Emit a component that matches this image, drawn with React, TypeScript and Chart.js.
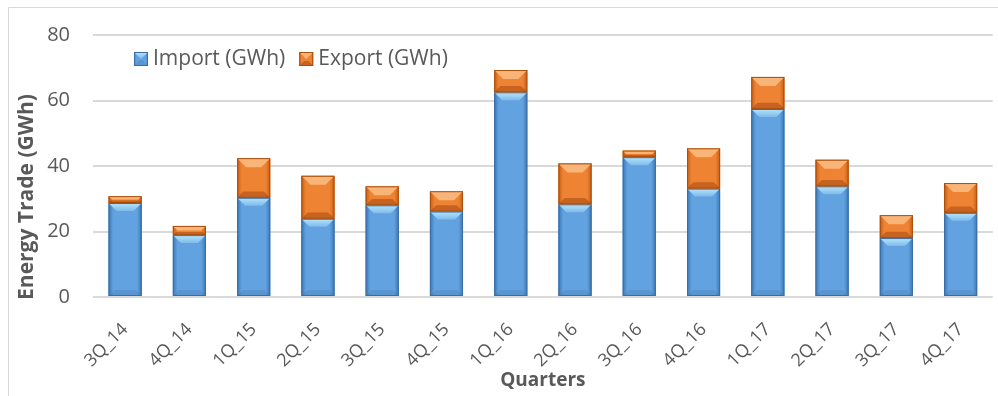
import React, { useEffect, useRef } from 'react';
import { Chart, registerables } from 'chart.js';

Chart.register(...registerables);

const categories = ['3Q_14', '4Q_14', '1Q_15', '2Q_15', '3Q_15', '4Q_15', '1Q_16', '2Q_16', '3Q_16', '4Q_16', '1Q_17', '2Q_17', '3Q_17', '4Q_17'];
const importValues = [28.7, 18.9, 30.3, 23.9, 28.0, 26.1, 62.5, 28.3, 42.7, 33.1, 57.4, 33.8, 18.0, 25.7];
const exportValues = [2.1, 2.8, 12.1, 13.1, 5.8, 6.2, 6.8, 12.5, 2.0, 12.3, 9.8, 8.1, 7.0, 9.1];
const seriesNames = ['Import (GWh)', 'Export (GWh)'];
const yTickValues = [0, 20, 40, 60, 80];
const xTitle = 'Quarters';
const yTitle = 'Energy Trade (GWh)';

const FONT = '"Open Sans", sans-serif';
const TEXT = '#595959';
const GRID = '#D9D9D9';

const palettes = [
  { edge: '#3B77B4', mid: '#62A2E0', light: '#B4E6FC', dark: 'rgba(40,80,130,0.15)', border: '#3A6EA3' },
  { edge: '#C85C14', mid: '#EE8433', light: '#F8B577', dark: 'rgba(150,60,10,0.45)', border: '#A9500F' },
];

function drawBevelBar(ctx: CanvasRenderingContext2D, left: number, top: number, w: number, h: number, p: any, kind: number) {
  if (h <= 0.5) return;
  ctx.save();
  const g = ctx.createLinearGradient(left, 0, left + w, 0);
  g.addColorStop(0, p.edge);
  g.addColorStop(0.14, p.mid);
  g.addColorStop(0.5, p.mid);
  g.addColorStop(0.86, p.mid);
  g.addColorStop(1, p.edge);
  ctx.fillStyle = g;
  ctx.fillRect(left, top, w, h);
  const b = Math.min(kind === 0 ? 8 : 9, h / 2, w / 2);
  if (kind === 0) {
    const cg = ctx.createLinearGradient(0, top, 0, top + b);
    cg.addColorStop(0, p.light);
    cg.addColorStop(1, 'rgba(180,230,252,0.35)');
    ctx.fillStyle = cg;
  } else {
    ctx.fillStyle = p.light;
  }
  ctx.beginPath();
  ctx.moveTo(left, top);
  ctx.lineTo(left + w, top);
  ctx.lineTo(left + w - b, top + b);
  ctx.lineTo(left + b, top + b);
  ctx.closePath();
  ctx.fill();
  ctx.fillStyle = p.dark;
  const bb = kind === 0 ? Math.min(6, h / 2) : b * 0.7;
  ctx.beginPath();
  ctx.moveTo(left, top + h);
  ctx.lineTo(left + w, top + h);
  ctx.lineTo(left + w - bb, top + h - bb);
  ctx.lineTo(left + bb, top + h - bb);
  ctx.closePath();
  ctx.fill();
  ctx.strokeStyle = p.border;
  ctx.lineWidth = 1;
  ctx.strokeRect(left + 0.5, top + 0.5, w - 1, h - 1);
  ctx.restore();
}

const bevelPlugin = {
  id: 'bevelBars',
  afterDatasetsDraw(chart: any) {
    const ctx = chart.ctx as CanvasRenderingContext2D;
    const area = chart.chartArea;
    ctx.save();
    ctx.beginPath();
    ctx.rect(area.left, area.top - 5, area.right - area.left, area.bottom - area.top + 5);
    ctx.clip();
    chart.data.datasets.forEach((ds: any, di: number) => {
      const meta = chart.getDatasetMeta(di);
      meta.data.forEach((el: any) => {
        const { x, y, base, width } = el.getProps(['x', 'y', 'base', 'width'], true);
        const top = Math.min(y, base);
        const h = Math.abs(base - y);
        drawBevelBar(ctx, x - width / 2, top, width, h, palettes[di], di);
      });
    });
    ctx.restore();
  },
};

const decorPlugin = {
  id: 'decor',
  beforeDraw(chart: any) {
    const ctx = chart.ctx as CanvasRenderingContext2D;
    ctx.save();
    ctx.fillStyle = '#FFFFFF';
    ctx.fillRect(0, 0, chart.width, chart.height);
    ctx.strokeStyle = GRID;
    ctx.lineWidth = 1;
    ctx.beginPath();
    ctx.moveTo(8.5, chart.height);
    ctx.lineTo(8.5, 7.5);
    ctx.lineTo(chart.width, 7.5);
    ctx.stroke();
    ctx.restore();
  },
  afterDraw(chart: any) {
    const ctx = chart.ctx as CanvasRenderingContext2D;
    const area = chart.chartArea;
    ctx.save();
    ctx.fillStyle = TEXT;
    ctx.textAlign = 'center';
    ctx.textBaseline = 'middle';
    ctx.font = 'bold 19px ' + FONT;
    ctx.fillText(xTitle, (area.left + area.right) / 2, 381);
    ctx.font = 'bold 21px ' + FONT;
    ctx.translate(27, 197);
    ctx.rotate(-Math.PI / 2);
    ctx.fillText(yTitle, 0, 0);
    ctx.restore();
    // legend
    ctx.save();
    ctx.font = '21px ' + FONT;
    ctx.textBaseline = 'middle';
    ctx.textAlign = 'left';
    let lx = 134;
    const ly = 59;
    seriesNames.forEach((name, i) => {
      drawBevelBar(ctx, lx, ly - 7, 14, 14, palettes[i], i === 0 ? 0 : 1);
      ctx.fillStyle = TEXT;
      ctx.fillText(name, lx + 19, ly);
      lx += 19 + ctx.measureText(name).width + 14;
    });
    ctx.restore();
  },
};

export default function App() {
  const ref = useRef<HTMLCanvasElement | null>(null);
  useEffect(() => {
    document.body.style.margin = '0';
    const canvas = ref.current;
    if (!canvas) return;
    const chart = new Chart(canvas, {
      type: 'bar',
      data: {
        labels: categories,
        datasets: [
          { label: seriesNames[0], data: importValues, backgroundColor: palettes[0].mid, borderWidth: 0 },
          { label: seriesNames[1], data: exportValues, backgroundColor: palettes[1].mid, borderWidth: 0 },
        ],
      },
      options: {
        responsive: false,
        animation: false,
        maintainAspectRatio: false,
        layout: { padding: { left: 0, right: 3, top: 32, bottom: 0 } },
        datasets: { bar: { categoryPercentage: 1, barPercentage: 0.515 } },
        plugins: { legend: { display: false }, tooltip: { enabled: false }, title: { display: false } },
        scales: {
          x: {
            stacked: true,
            grid: { display: false, drawTicks: false },
            border: { display: false },
            ticks: {
              color: TEXT,
              font: { family: FONT, size: 18 },
              maxRotation: 45,
              minRotation: 45,
              padding: 22,
              autoSkip: false,
            },
            afterFit(scale: any) { scale.height = 99; },
          },
          y: {
            stacked: true,
            min: 0,
            max: 80,
            afterBuildTicks(scale: any) { scale.ticks = yTickValues.map((v) => ({ value: v })); },
            grid: { color: GRID, lineWidth: 2, drawTicks: false },
            border: { display: false },
            ticks: {
              color: TEXT,
              font: { family: FONT, size: 20 },
              padding: 23,
            },
            afterFit(scale: any) { scale.width = 93; },
          },
        },
      },
      plugins: [decorPlugin, bevelPlugin],
    });
    return () => chart.destroy();
  }, []);
  return <canvas ref={ref} width={998} height={396} style={{ display: 'block', width: 998, height: 396 }} />;
}
